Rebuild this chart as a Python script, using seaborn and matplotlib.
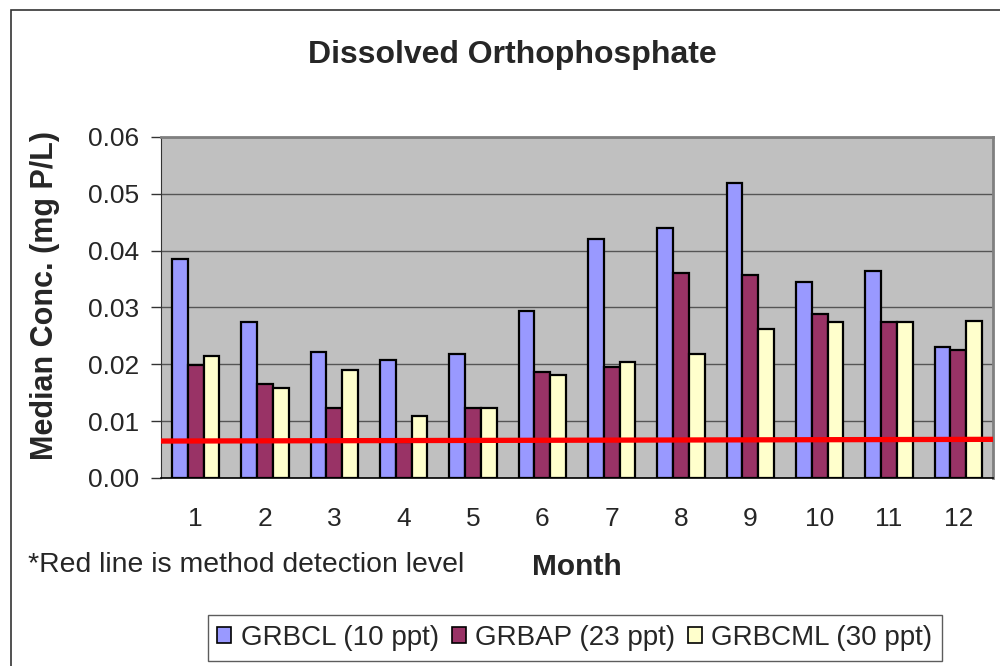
import numpy as np
import pandas as pd
import matplotlib
matplotlib.use("Agg")
import matplotlib.pyplot as plt
import seaborn as sns
from matplotlib.patches import Rectangle

# ---------- data ----------
months = [str(m) for m in range(1, 13)]
grbcl = [0.0386, 0.0274, 0.0222, 0.0207, 0.0218, 0.0294, 0.0421, 0.0439, 0.0519, 0.0344, 0.0365, 0.0231]
grbap = [0.0199, 0.0165, 0.0123, 0.0064, 0.0123, 0.0186, 0.0196, 0.0361, 0.0358, 0.0288, 0.0274, 0.0225]
grbcml = [0.0214, 0.0158, 0.0190, 0.0109, 0.0123, 0.0182, 0.0204, 0.0218, 0.0263, 0.0274, 0.0274, 0.0277]
series_names = ["GRBCL (10 ppt)", "GRBAP (23 ppt)", "GRBCML (30 ppt)"]
series_colors = ["#9999FF", "#993366", "#FFFFCC"]
detect_level = [0.0065, 0.0068]  # red line, left end / right end
y_ticks = [0.00, 0.01, 0.02, 0.03, 0.04, 0.05, 0.06]

df = pd.DataFrame({
    "Month": months * 3,
    "Site": np.repeat(series_names, 12),
    "Conc": grbcl + grbap + grbcml,
})

sns.set_style("white")
plt.rcParams["font.family"] = ["Liberation Sans", "DejaVu Sans"]

fig = plt.figure(figsize=(10, 6.66), dpi=100)
ax = fig.add_axes([0.161, 0.2823, 0.832, 0.512])
ax.set_facecolor("#C0C0C0")

sns.barplot(data=df, x="Month", y="Conc", hue="Site", order=months,
            hue_order=series_names, palette=series_colors, width=0.68,
            edgecolor="black", linewidth=1.6, saturation=1, ax=ax, legend=False,
            zorder=3)

ax.plot([-0.5, 11.5], detect_level, color="#FF0000", lw=3.8, zorder=4,
        solid_capstyle="butt")

ax.set_xlim(-0.5, 11.5)
ax.set_ylim(0, 0.06)
ax.set_yticks(y_ticks)
ax.set_yticklabels([f"{v:.2f}" for v in y_ticks])
ax.yaxis.grid(True, color="#555555", lw=1.0, zorder=0)
ax.set_axisbelow(True)

# tick marks between month groups, labels at centres
ax.set_xticks(range(12))
ax.set_xticks(np.arange(-0.5, 12, 1), minor=True)
ax.tick_params(axis="x", which="major", length=0, pad=21, labelsize=19)
ax.tick_params(axis="x", which="minor", length=7, width=1, color="#333333", direction="out")
ax.tick_params(axis="y", length=7, width=1, color="#333333", direction="out",
               labelsize=19, pad=9, left=True)

for side in ["top", "right"]:
    ax.spines[side].set_color("#808080")
    ax.spines[side].set_linewidth(2)
ax.spines["left"].set_color("#333333")
ax.spines["bottom"].set_color("#000000")
ax.spines["bottom"].set_linewidth(1.2)

ax.set_xlabel("")
ax.set_ylabel("Median Conc. (mg P/L)", fontsize=22, fontweight="bold")
ax.yaxis.set_label_coords(-0.139, 0.534)
ax.yaxis.label.set_va("center")

fig.text(0.512, 0.917, "Dissolved Orthophosphate", ha="center", va="center",
         fontsize=23, fontweight="bold")
fig.text(0.577, 0.149, "Month", ha="center", va="center", fontsize=21.5, fontweight="bold")
fig.text(0.028, 0.152, "*Red line is method detection level", ha="left", va="center",
         fontsize=20.4)

# outer chart frame (only left and top visible)
fig.patches.append(Rectangle((0.011, -0.05), 1.2, 1.035, transform=fig.transFigure,
                             fill=False, edgecolor="#333333", lw=1.2))

handles = [Rectangle((0, 0), 1, 1, facecolor=c, edgecolor="black", lw=1.2) for c in series_colors]
leg = fig.legend(handles, series_names, loc="center", bbox_to_anchor=(0.575, 0.042),
                 ncol=3, fontsize=20, frameon=True, fancybox=False, handlelength=0.5,
                 handleheight=0.5, handletextpad=0.35, columnspacing=0.45,
                 borderpad=0.35)
leg.get_frame().set_edgecolor("#333333")
leg.get_frame().set_linewidth(1)

fig.savefig("out.png", dpi=100)
